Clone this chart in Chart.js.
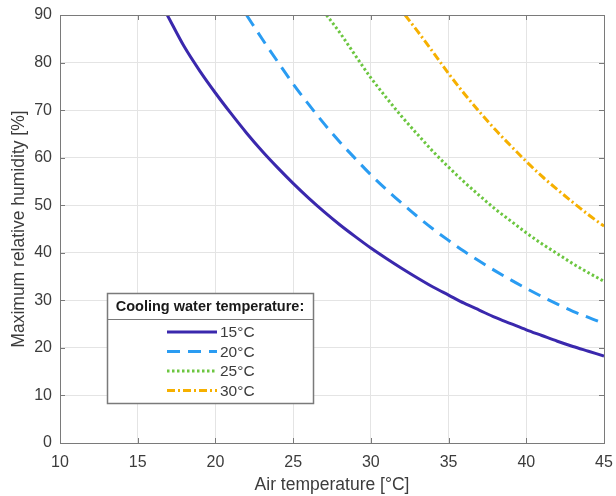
<!DOCTYPE html>
<html>
<head>
<meta charset="utf-8">
<script src="https://cdn.jsdelivr.net/npm/chart.js@4/dist/chart.umd.min.js"></script>
<style>
html,body{margin:0;padding:0;background:#fff;}
#wrap{width:616px;height:496px;}
</style>
</head>
<body>
<div id="wrap"><canvas id="c" width="616" height="496"></canvas></div>
<script>
// ---- data ----
const xTickLabels = [10, 15, 20, 25, 30, 35, 40, 45];
const yTickLabels = [0, 10, 20, 30, 40, 50, 60, 70, 80, 90];

const seriesLabels = ['15°C', '20°C', '25°C', '30°C'];
const legendTitle = 'Cooling water temperature:';

const air15 = [16.9, 18, 19, 20, 21, 22, 23, 24, 25, 26, 27, 28, 29, 30, 31, 32, 33, 34, 35, 36, 37, 38, 39, 40, 41, 42, 43, 44, 45];
const rh15  = [90, 83.3, 78.2, 73.6, 69.3, 65.2, 61.4, 57.9, 54.6, 51.5, 48.6, 45.9, 43.4, 41.0, 38.8, 36.7, 34.7, 32.8, 31.1, 29.4, 27.9, 26.4, 25.1, 23.8, 22.6, 21.4, 20.3, 19.3, 18.3];

const air20 = [22.0, 23, 24, 25, 26, 27, 28, 29, 30, 31, 32, 33, 34, 35, 36, 37, 38, 39, 40, 41, 42, 43, 44, 45];
const rh20  = [90, 85.0, 80.2, 75.5, 71.2, 67.1, 63.3, 59.8, 56.4, 53.3, 50.4, 47.6, 45.0, 42.6, 40.3, 38.2, 36.2, 34.3, 32.5, 30.8, 29.2, 27.7, 26.4, 25.1];

const air25 = [27.15, 28, 29, 30, 31, 32, 33, 34, 35, 36, 37, 38, 39, 40, 41, 42, 43, 44, 45];
const rh25  = [90, 86.3, 81.5, 76.8, 72.6, 68.6, 64.9, 61.3, 58.0, 54.9, 52.0, 49.2, 46.7, 44.2, 41.9, 39.8, 37.7, 35.8, 34.0];

const air30 = [32.2, 33, 34, 35, 36, 37, 38, 39, 40, 41, 42, 43, 44, 45];
const rh30  = [90, 86.6, 82.2, 77.7, 73.5, 69.6, 65.9, 62.5, 59.2, 56.1, 53.3, 50.6, 48.0, 45.6];

// ---- styling ----
const FONT = '"Liberation Sans", Arial, Helvetica, sans-serif';
const AXIS_COLOR = '#7a7a7a';
const TEXT_COLOR = '#3c3c3c';
const GRID_COLOR = '#e4e4e4';

function pts(xs, ys){ return xs.map((x,i)=>({x:x, y:ys[i]})); }

const styles = [
  {color:'#3a28ad', dash:[]},
  {color:'#2a9cf2', dash:[13,8]},
  {color:'#6cc640', dash:[2.5,2.5]},
  {color:'#f6b000', dash:[8,3,2,3]}
];
const series = [[air15, rh15],[air20, rh20],[air25, rh25],[air30, rh30]];

const datasets = series.map((s,i)=>({
  label: seriesLabels[i],
  data: pts(s[0], s[1]),
  borderColor: styles[i].color,
  borderDash: styles[i].dash,
  borderWidth: 3,
  pointRadius: 0,
  fill: false,
  cubicInterpolationMode: 'monotone'
}));

// box + inward ticks
const boxPlugin = {
  id: 'boxPlugin',
  afterDatasetsDraw(chart){
    const {ctx, chartArea:a, scales:{x, y}} = chart;
    ctx.save();
    ctx.strokeStyle = AXIS_COLOR;
    ctx.lineWidth = 1;
    ctx.beginPath();
    xTickLabels.forEach(v=>{
      const px = Math.round(x.getPixelForValue(v)) + 0.5;
      ctx.moveTo(px, a.bottom); ctx.lineTo(px, a.bottom - 5);
      ctx.moveTo(px, a.top); ctx.lineTo(px, a.top + 5);
    });
    yTickLabels.forEach(v=>{
      const py = Math.round(y.getPixelForValue(v)) + 0.5;
      ctx.moveTo(a.left, py); ctx.lineTo(a.left + 5, py);
      ctx.moveTo(a.right, py); ctx.lineTo(a.right - 5, py);
    });
    ctx.stroke();
    ctx.strokeRect(Math.round(a.left)+0.5, Math.round(a.top)+0.5, Math.round(a.right-a.left), Math.round(a.bottom-a.top));
    ctx.restore();
  }
};

// in-plot legend drawn from the datasets
const legendPlugin = {
  id: 'boxLegend',
  afterDraw(chart, args, opts){
    const ctx = chart.ctx;
    const L = opts.left, T = opts.top, W = opts.width, H = opts.height;
    ctx.save();
    ctx.fillStyle = '#ffffff';
    ctx.fillRect(L, T, W, H);
    ctx.strokeStyle = AXIS_COLOR;
    ctx.lineWidth = 1.5;
    ctx.strokeRect(L+0.5, T+0.5, W, H);
    ctx.beginPath();
    ctx.moveTo(L, T + opts.headerH + 0.5); ctx.lineTo(L + W, T + opts.headerH + 0.5);
    ctx.lineWidth = 1;
    ctx.stroke();
    ctx.fillStyle = '#1a1a1a';
    ctx.font = 'bold 14.5px ' + FONT;
    ctx.textAlign = 'center';
    ctx.textBaseline = 'middle';
    ctx.fillText(opts.title, L + W/2, T + opts.headerH/2 + 1);
    chart.data.datasets.forEach((ds, i)=>{
      const yy = T + opts.headerH + opts.firstRow + i*opts.rowH;
      ctx.beginPath();
      ctx.strokeStyle = ds.borderColor;
      ctx.lineWidth = 3;
      ctx.setLineDash(ds.borderDash);
      ctx.moveTo(opts.lineX0, yy); ctx.lineTo(opts.lineX1, yy);
      ctx.stroke();
      ctx.setLineDash([]);
      ctx.fillStyle = TEXT_COLOR;
      ctx.font = '15.5px ' + FONT;
      ctx.textAlign = 'left';
      ctx.fillText(ds.label, opts.lineX1 + 3, yy + 1);
    });
    ctx.restore();
  }
};

new Chart(document.getElementById('c'), {
  type: 'line',
  data: { datasets },
  options: {
    responsive: false,
    animation: false,
    layout: { padding: { top: 15, right: 12, left: 0, bottom: 0 } },
    plugins: {
      legend: { display: false },
      tooltip: { enabled: false },
      boxLegend: {
        title: legendTitle,
        left: 107, top: 293, width: 206, height: 110,
        headerH: 26, firstRow: 13, rowH: 19.5,
        lineX0: 167, lineX1: 217
      }
    },
    scales: {
      x: {
        type: 'linear',
        min: 10, max: 45,
        afterBuildTicks(scale){ scale.ticks = xTickLabels.map(v=>({value:v})); },
        afterFit(scale){ scale.height = 53; scale.paddingLeft = 0; scale.paddingRight = 0; },
        ticks: { color: TEXT_COLOR, font: { family: FONT, size: 16 }, padding: 10, maxRotation: 0 },
        grid: { color: GRID_COLOR, drawTicks: false },
        border: { display: false },
        title: { display: true, text: 'Air temperature [°C]', color: TEXT_COLOR,
                 font: { family: FONT, size: 17.5 }, padding: { top: 0, bottom: 0 } }
      },
      y: {
        type: 'linear',
        min: 0, max: 90,
        afterBuildTicks(scale){ scale.ticks = yTickLabels.map(v=>({value:v})); },
        afterFit(scale){ scale.width = 60; scale.paddingTop = 0; scale.paddingBottom = 0; },
        ticks: { color: TEXT_COLOR, font: { family: FONT, size: 16 }, padding: 8 },
        grid: { color: GRID_COLOR, drawTicks: false },
        border: { display: false },
        title: { display: true, text: 'Maximum relative humidity [%]', color: TEXT_COLOR,
                 font: { family: FONT, size: 17.5 }, padding: { top: 9, bottom: 0 } }
      }
    }
  },
  plugins: [boxPlugin, legendPlugin]
});
</script>
</body>
</html>
